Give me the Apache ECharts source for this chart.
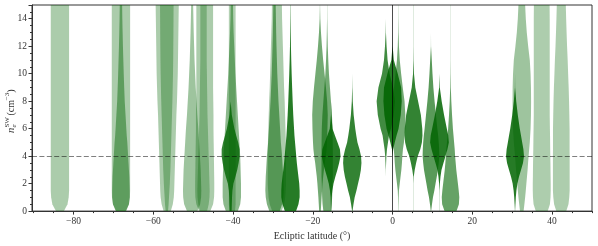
<!DOCTYPE html>
<html><head><meta charset="utf-8">
<script src="https://cdn.jsdelivr.net/npm/echarts@6/dist/echarts.min.js"></script>
<style>html,body{margin:0;padding:0;background:#fff}#c{width:598px;height:246px}</style>
</head><body><div id="c"></div>
<script>
// density levels (cm^-3) at which each violin half-width (deg of latitude) is read
const levels = [0,0.5,1,1.5,2,2.5,3,3.5,4,4.5,5,5.5,6,7,8,9,10,11,12,13,14,15];
// violin centres (ecliptic latitude, deg)
const centers = [-83.4,-68.1,-68.1,-56.5,-56.6,-50.25,-47.1,-47.4,-40.2,-40.3,-40.6,-29.0,-29.6,-25.6,-18.2,-16.4,-15.4,-10.1,-1.7,0.0,1.45,5.25,9.63,11.76,14.53,30.7,32.4,37.4,42.3];
// violin opacity
const alphas = [0.33,0.33,0.45,0.33,0.33,0.38,0.33,0.3,0.3,0.45,0.8,0.33,0.5,0.85,0.55,0.55,0.85,0.8,0.75,0.85,0.55,0.8,0.65,0.85,0.6,0.85,0.38,0.32,0.32];
// half widths at each level
const widths = [
 [1.0,1.9,2.2,2.3,2.3,2.3,2.3,2.3,2.3,2.3,2.3,2.3,2.3,2.3,2.3,2.3,2.3,2.3,2.3,2.3,2.3,2.3],
 [1.2,2.0,2.25,2.3,2.3,2.3,2.3,2.3,2.3,2.3,2.3,2.3,2.3,2.3,2.3,2.3,2.3,2.3,2.3,2.3,2.3,2.3],
 [1.3,2.0,2.2,2.2,2.15,2.1,2.0,1.9,1.8,1.7,1.6,1.45,1.35,1.15,0.95,0.82,0.7,0.6,0.5,0.42,0.35,0.3],
 [0.9,1.4,1.65,1.75,1.8,1.85,1.9,1.95,2.0,2.05,2.1,2.15,2.2,2.3,2.45,2.55,2.65,2.7,2.75,2.8,2.85,2.9],
 [0.3,0.45,0.55,0.65,0.75,0.82,0.9,0.95,1.0,1.05,1.1,1.15,1.2,1.3,1.4,1.48,1.55,1.6,1.63,1.66,1.68,1.7],
 [1.3,2.0,2.25,2.3,2.25,2.2,2.15,2.05,1.95,1.85,1.75,1.65,1.55,1.3,1.1,0.9,0.75,0.6,0.5,0.4,0.32,0.25],
 [1.4,2.1,2.35,2.4,2.4,2.38,2.35,2.33,2.3,2.28,2.25,2.22,2.2,2.2,2.15,2.1,2.1,2.1,2.1,2.1,2.1,2.1],
 [0.9,1.3,1.5,1.55,1.5,1.45,1.4,1.35,1.3,1.25,1.2,1.15,1.1,1.0,0.95,0.9,0.85,0.8,0.8,0.8,0.8,0.8],
 [0.7,0.85,0.85,0.85,0.85,0.85,0.85,0.85,0.85,0.85,0.85,0.85,0.85,0.85,0.85,0.85,0.85,0.85,0.85,0.85,0.85,0.85],
 [1.5,2.1,2.3,2.3,2.3,2.25,2.2,2.15,2.1,2.0,1.9,1.8,1.7,1.5,1.3,1.1,0.9,0.75,0.6,0.45,0.35,0.3],
 [0.25,0.3,0.35,0.45,0.7,1.2,1.65,2.0,2.25,2.25,1.9,1.4,0.95,0.3,0,0,0,0,0,0,0,0],
 [1.2,1.8,2.1,2.2,2.3,2.3,2.3,2.3,2.3,2.28,2.25,2.2,2.15,2.05,1.95,1.8,1.7,1.6,1.5,1.4,1.3,1.25],
 [1.3,1.9,2.2,2.3,2.25,2.2,2.1,2.0,1.9,1.75,1.6,1.5,1.4,1.2,1.0,0.85,0.7,0.6,0.5,0.42,0.36,0.3],
 [1.4,2.0,2.3,2.3,2.2,2.0,1.8,1.6,1.45,1.3,1.15,1.0,0.9,0.7,0.55,0.42,0.3,0.2,0.12,0.08,0.05,0.03],
 [0.2,0.3,0.4,0.52,0.65,0.8,1.0,1.2,1.45,1.65,1.75,1.82,1.88,1.95,1.8,1.5,1.15,0.8,0.5,0.25,0.08,0.02],
 [0.95,1.15,1.25,1.3,1.35,1.42,1.42,1.42,1.42,1.42,1.4,1.38,1.35,1.2,0.95,0.7,0.45,0.28,0.15,0.08,0.03,0.02],
 [0.05,0.08,0.13,0.3,0.6,1.05,1.55,2.0,2.35,2.2,1.6,0.95,0.35,0.05,0,0,0,0,0,0,0,0],
 [0.05,0.3,0.6,1.05,1.45,1.85,2.15,2.3,2.2,1.8,1.3,1.0,0.75,0.35,0.12,0.03,0,0,0,0,0,0],
 [0,0,0,0,0,0,0.02,0.08,0.15,0.3,0.55,0.8,1.3,2.0,2.3,1.85,0.95,0.45,0.2,0.04,0,0],
 [0,0,0,0,0,0,0,0,0,0.15,0.55,1.0,1.5,2.05,2.3,2.15,1.3,0.3,0.03,0,0,0],
 [0.03,0.05,0.08,0.15,0.35,0.55,0.75,0.9,1.0,1.15,1.4,1.6,1.75,1.75,1.55,1.1,0.7,0.35,0.15,0.06,0.03,0.02],
 [0.02,0.02,0.02,0.02,0.02,0.06,0.3,0.65,1.05,1.7,2.1,2.25,2.2,1.85,1.15,0.45,0.12,0.04,0.02,0.02,0.02,0.02],
 [0.04,0.25,0.5,0.85,1.15,1.45,1.75,1.95,2.1,2.05,1.95,1.8,1.6,1.25,0.9,0.6,0.38,0.2,0.02,0,0,0],
 [0.02,0.02,0.02,0.03,0.1,0.25,0.5,1.0,1.5,2.0,2.35,2.2,1.85,1.15,0.55,0.08,0,0,0,0,0,0],
 [1.5,2.1,2.2,2.05,1.85,1.65,1.45,1.3,1.15,1.05,0.9,0.75,0.6,0.38,0.2,0.08,0.04,0.02,0.02,0.02,0.02,0.02],
 [0.02,0.1,0.2,0.35,0.6,1.0,1.5,2.0,2.25,2.1,1.8,1.5,1.2,0.7,0.3,0.03,0,0,0,0,0,0],
 [0.45,0.65,0.84,1.0,1.15,1.3,1.45,1.57,1.7,1.85,2.0,2.1,2.2,2.3,2.33,2.3,2.2,2.0,1.6,1.25,1.0,0.84],
 [1.5,2.05,2.2,2.25,2.25,2.22,2.2,2.18,2.15,2.12,2.1,2.08,2.05,2.0,2.0,2.0,2.0,2.0,2.0,2.0,2.0,1.97],
 [1.25,1.8,2.0,2.1,2.1,2.1,2.1,2.1,2.1,2.08,2.08,2.08,2.08,2.02,1.95,1.85,1.72,1.6,1.45,1.33,1.22,1.13]
];
const xMajorTicks = [-80,-60,-40,-20,0,20,40];
const xMinorTicks = [-90,-85,-75,-70,-65,-55,-50,-45,-35,-30,-25,-15,-10,-5,5,10,15,25,30,35,45,50];
const refDensity = 4;
const refLatitude = 0;

const FONT = '"Liberation Serif", "Times New Roman", serif';
const fmt = v => String(v).replace('-', '\u2212');

function violinPoints(i, api) {
  const c = centers[i], w = widths[i];
  let lo = w.findIndex(v => v > 0);
  let hi = w.length - 1; while (hi > 0 && !(w[hi] > 0)) hi--;
  const s = Math.max(0, lo - 1), e = Math.min(w.length - 1, hi + 1);
  const right = [], left = [];
  for (let k = s; k <= e; k++) {
    right.push(api.coord([c + w[k], levels[k]]));
    left.push(api.coord([c - w[k], levels[k]]));
  }
  return right.concat(left.reverse());
}

const chart = echarts.init(document.getElementById('c'), null, {renderer: 'canvas'});
chart.setOption({
  animation: false,
  grid: {left: 32, right: 6, top: 5, bottom: 32, show: true, borderColor: '#333', borderWidth: 1, backgroundColor: 'transparent'},
  xAxis: [{
    type: 'value', min: -90.4, max: 50,
    axisLine: {onZero: false, lineStyle: {color: '#333', width: 1}},
    axisTick: {show: true, length: 3.5, lineStyle: {color: '#333'}, customValues: xMajorTicks},
    axisLabel: {customValues: xMajorTicks, formatter: fmt, fontFamily: FONT, fontSize: 9.5, color: '#333', margin: 5},
    splitLine: {show: false},
    name: 'Ecliptic latitude (\u00b0)', nameLocation: 'middle', nameGap: 17,
    nameTextStyle: {fontFamily: FONT, fontSize: 10, color: '#333'}
  }, {
    type: 'value', min: -90.4, max: 50, position: 'bottom',
    axisLine: {show: false, onZero: false},
    axisTick: {show: true, length: 2, lineStyle: {color: '#333'}, customValues: xMinorTicks},
    axisLabel: {show: false}, splitLine: {show: false}
  }],
  yAxis: {
    type: 'value', min: 0, max: 15, interval: 2, position: 'left',
    axisLine: {show: true, onZero: false, lineStyle: {color: '#333', width: 1}},
    axisTick: {show: true, length: 3.5, lineStyle: {color: '#333'}},
    minorTick: {show: true, splitNumber: 4, length: 2, lineStyle: {color: '#333'}},
    axisLabel: {fontFamily: FONT, fontSize: 9.5, color: '#333', margin: 5, showMaxLabel: false,
      formatter: v => (v > 14 ? '' : String(v))},
    splitLine: {show: false}
  },
  graphic: [{
    type: 'group', x: 11, y: 110, rotation: Math.PI / 2, silent: true,
    children: [
      {type: 'text', x: -23, y: 0, style: {text: 'n', font: 'italic 10.5px ' + FONT, fill: '#333', verticalAlign: 'middle'}},
      {type: 'text', x: -17.6, y: -3.6, style: {text: 'SW', font: '7px ' + FONT, fill: '#333', verticalAlign: 'middle'}},
      {type: 'text', x: -17.6, y: 3.2, style: {text: 'e', font: 'italic 7px ' + FONT, fill: '#333', verticalAlign: 'middle'}},
      {type: 'text', x: -5.5, y: 0, style: {text: '(cm', font: '10px ' + FONT, fill: '#333', verticalAlign: 'middle'}},
      {type: 'text', x: 9.8, y: -3.6, style: {text: '\u22123', font: '7px ' + FONT, fill: '#333', verticalAlign: 'middle'}},
      {type: 'text', x: 17.2, y: 0, style: {text: ')', font: '10px ' + FONT, fill: '#333', verticalAlign: 'middle'}}
    ]
  }],
  series: [{
    type: 'custom', clip: true, silent: true, z: 2,
    data: centers.map((c, i) => [c, 0, i]),
    encode: {x: 0, y: 1},
    renderItem: (params, api) => ({
      type: 'polygon',
      shape: {points: violinPoints(params.dataIndex, api)},
      style: {fill: 'rgba(0,100,0,' + alphas[params.dataIndex] + ')', stroke: null}
    })
  }, {
    type: 'line', data: [], silent: true, z: 5,
    markLine: {
      silent: true, symbol: ['none', 'none'], label: {show: false}, animation: false,
      data: [
        {yAxis: refDensity, lineStyle: {type: [5, 2.4], color: 'rgba(0,0,0,0.5)', width: 1.2}},
        {xAxis: refLatitude, lineStyle: {type: 'solid', color: 'rgba(0,0,0,0.7)', width: 1}}
      ]
    }
  }]
});
</script></body></html>
